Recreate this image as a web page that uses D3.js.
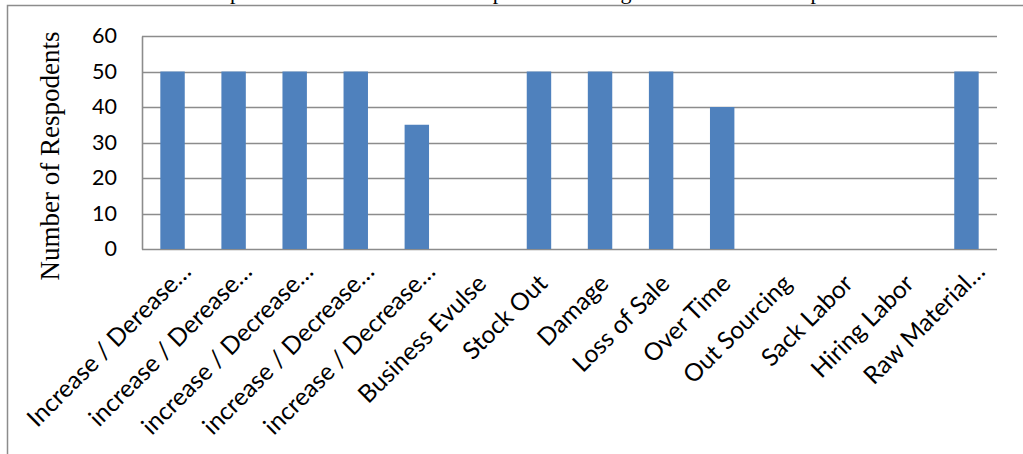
<!DOCTYPE html>
<html>
<head>
<meta charset="utf-8">
<script src="https://cdn.jsdelivr.net/npm/d3@7"></script>
<style>
  html, body { margin: 0; padding: 0; background: #fff; }
  svg { display: block; }
</style>
</head>
<body>
<svg id="chart" width="1023" height="454"></svg>
<script>
// Responses per option
const categories = [
  "Increase / Derease…",
  "increase / Derease…",
  "increase / Decrease…",
  "increase / Decrease…",
  "increase / Decrease…",
  "Business Evulse",
  "Stock Out",
  "Damage",
  "Loss of Sale",
  "Over Time",
  "Out Sourcing",
  "Sack Labor",
  "Hiring Labor",
  "Raw Material…"
];
const respondents = [50, 50, 50, 50, 35, 0, 50, 50, 50, 40, 0, 0, 0, 50];
const yTicks = [0, 10, 20, 30, 40, 50, 60];
const titleText = "Impact of Stock Out and the Response Handling to the Stock Out Impacts";
const yTitle = "Number of Respodents";

const svg = d3.select("#chart");
const W = 1023, H = 454;
const plot = { left: 142, right: 997, top: 36, bottom: 249 };

// outer chart frame
svg.append("rect")
  .attr("x", 7.5).attr("y", 5.5)
  .attr("width", W + 20).attr("height", H + 20)
  .attr("fill", "none").attr("stroke", "#8c8c8c").attr("stroke-width", 1.5);

// chart title, sitting above the frame
const title = svg.append("text")
  .attr("y", -1.5)
  .attr("font-family", "'Liberation Serif', 'Times New Roman', serif")
  .attr("font-size", 22)
  .attr("fill", "#000")
  .text(titleText);
title.attr("x", 0);
const px = title.node().getStartPositionOfChar(titleText.indexOf("p")).x;
title.attr("x", 230 - px);

const x = d3.scaleBand()
  .domain(d3.range(categories.length))
  .range([plot.left, plot.right])
  .paddingInner(0.6)
  .paddingOuter(0.3);

const y = d3.scaleLinear()
  .domain([0, 60])
  .range([plot.bottom, plot.top]);

// horizontal gridlines
svg.append("g")
  .selectAll("line")
  .data(yTicks)
  .join("line")
  .attr("x1", plot.left).attr("x2", plot.right)
  .attr("y1", d => Math.round(y(d)) + 0.5)
  .attr("y2", d => Math.round(y(d)) + 0.5)
  .attr("stroke", "#8c8c8c")
  .attr("stroke-width", 1.6);

// y axis
const yAxis = svg.append("g")
  .attr("transform", `translate(${plot.left},0)`)
  .call(d3.axisLeft(y).tickValues(yTicks).tickSize(0).tickPadding(25));
yAxis.select(".domain")
  .attr("stroke", "#8c8c8c").attr("stroke-width", 1.6);
yAxis.selectAll("text")
  .attr("font-family", "Lato, 'Open Sans', sans-serif")
  .attr("font-size", 21.5)
  .attr("fill", "#000");

// bars
svg.append("g")
  .selectAll("rect")
  .data(respondents)
  .join("rect")
  .attr("x", (d, i) => x(i))
  .attr("y", d => y(d))
  .attr("width", x.bandwidth())
  .attr("height", d => y(0) - y(d))
  .attr("fill", "#4f81bd");

// x axis with rotated category labels; truncated labels fill their slot further out
const xAxis = svg.append("g")
  .attr("transform", `translate(0,${plot.bottom})`)
  .call(d3.axisBottom(x).tickFormat(i => categories[i]).tickSize(0));
xAxis.select(".domain").remove();
xAxis.selectAll("text")
  .attr("font-family", "Lato, 'Open Sans', sans-serif")
  .attr("font-size", 24.5)
  .attr("fill", "#000")
  .attr("text-anchor", "end")
  .attr("dy", 0)
  .attr("y", 0)
  .attr("transform", i => categories[i].endsWith("…")
    ? "translate(20,24) rotate(-45)"
    : "translate(10,36) rotate(-45)");

// y axis title
svg.append("text")
  .attr("transform", `translate(59,156) rotate(-90)`)
  .attr("text-anchor", "middle")
  .attr("font-family", "'Liberation Serif', 'Times New Roman', serif")
  .attr("font-size", 27)
  .attr("fill", "#000")
  .text(yTitle);
</script>
</body>
</html>
